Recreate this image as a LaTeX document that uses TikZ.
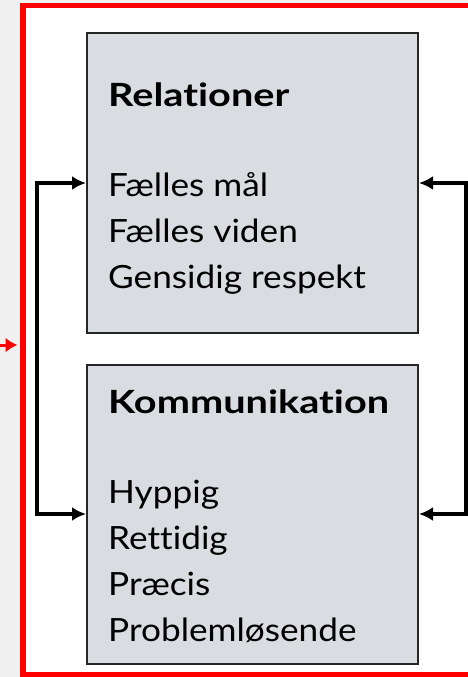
\documentclass[tikz,border=0pt]{standalone}
\usepackage{fontspec}
\setmainfont{Lato}[Ligatures=NoCommon, FakeStretch=1.1, BoldFeatures={FakeStretch=1.24}]
\usetikzlibrary{arrows.meta}
\definecolor{boxgray}{RGB}{217,220,224}
\definecolor{pagegray}{RGB}{240,240,240}

\begin{document}
\begin{tikzpicture}[x=1pt,y=-1pt,
  box/.style={draw=black!85, line width=2pt, fill=boxgray, minimum width=331pt, minimum height=299pt, inner sep=0pt},
  head/.style={anchor=base west, inner sep=0pt, font=\fontsize{32}{38}\selectfont\bfseries},
  item/.style={anchor=base west, inner sep=0pt, font=\fontsize{32}{38}\selectfont},
  link/.style={line width=3.5pt, {Latex[length=14pt,width=14pt]}-{Latex[length=14pt,width=14pt]}}]
\clip (0,0) rectangle (468,677);
\fill[pagegray] (0,0) rectangle (468,677);
\node[draw=red, line width=5.5pt, fill=white, minimum width=480pt, minimum height=669pt, inner sep=0pt] (frame) at (263,340) {};
\coordinate (in) at (0,345);
\draw[red, line width=3pt, -{Latex[length=12pt,width=15pt]}, shorten >=2.75pt] (in) -- (in -| frame.west);

% the two boxes
\node[box] (rel) at (252.5,183) {};
\node[box] (kom) at (252.5,514) {};

\node[head] (relhead) at (108,106) {Relationer};
\foreach \t [count=\i] in {Fælles mål, Fælles viden, Gensidig respekt}
\node[item] (rel\i) at (108,150+46*\i) {\t};

\node[head] (komhead) at (108,413) {Kommunikation};
\foreach \t [count=\i] in {Hyppig, Rettidig, Præcis, Problemløsende}
\node[item] (kom\i) at (108,457+46*\i) {\t};

% feedback loops
\draw[link] (rel.west) -- ++(-49,0) |- (kom.west);
\draw[link] (rel.east) -- ++(47,0) |- (kom.east);
\end{tikzpicture}
\end{document}
